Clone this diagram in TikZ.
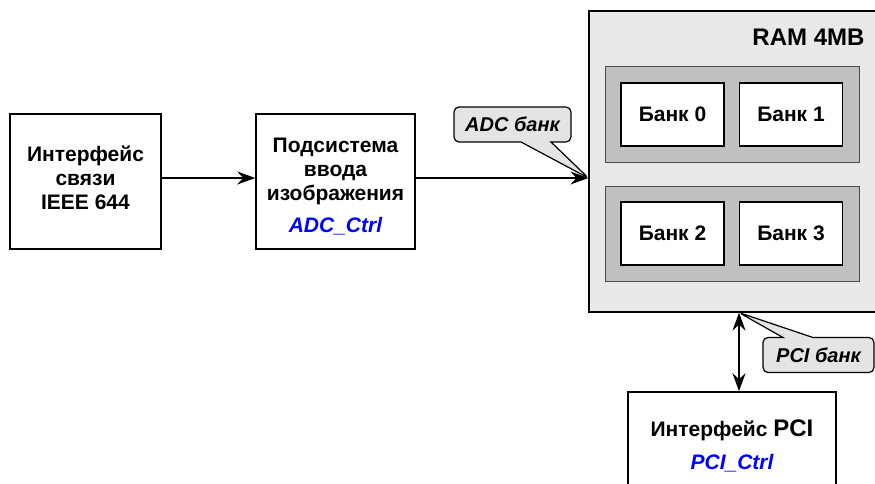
\documentclass[tikz,border=0pt]{standalone}
\usepackage{fontspec}
\setmainfont{Liberation Sans}
\usetikzlibrary{shapes.callouts,arrows.meta}
\definecolor{ramgray}{RGB}{233,233,233}
\definecolor{grpgray}{RGB}{192,192,192}
\definecolor{taggray}{RGB}{228,228,228}
\definecolor{ctrlblue}{RGB}{0,0,255}
\newcommand\ctrlname[1]{{\color{ctrlblue}\itshape #1}}

\begin{document}
\begin{tikzpicture}[x=1pt,y=-1pt]
	\tikzset{every node/.style={font=\fontsize{21}{24}\selectfont\bfseries,align=center}}
	\tikzset{block/.style={draw,line width=1.6pt,fill=white,minimum width=#1,minimum height=135pt,inner sep=0pt}}
	\tikzset{group/.style={draw=black!70,line width=1pt,fill=grpgray,minimum width=254pt,minimum height=95pt}}
	\tikzset{bank/.style={draw,line width=1.6pt,fill=white,minimum width=103pt,minimum height=63pt,inner sep=0pt}}
	\tikzset{tag/.style={rectangle callout,draw,line width=1.2pt,fill=taggray,rounded corners=5pt,callout pointer width=30pt,minimum height=35pt,inner sep=0pt,font=\fontsize{20}{24}\selectfont\bfseries\itshape}}
	\tikzset{bigtip/.tip={Stealth[length=18pt,width=13pt,inset=6pt]}}
	\tikzset{arr/.style={line width=1.6pt,-bigtip}}
	\tikzset{darr/.style={line width=1.6pt,bigtip-bigtip}}
	\clip (0,0) rectangle (875,484);
	\node[block=151pt,text height=63pt,text depth=8pt] (iface) at (85.5,181.5) {Интерфейс\\связи\\IEEE 644};
	\node[block=159pt,text height=109pt,text depth=8pt] (adc) at (335.5,181.5) {Подсистема\\ввода\\изображения\\[8pt]\ctrlname{ADC\_Ctrl}};
	\node[draw,line width=1.2pt,fill=ramgray,minimum width=291pt,minimum height=301pt] (ram) at (734.5,161.5) {};
	\node[anchor=base east,font=\fontsize{24}{28}\selectfont\bfseries] (ramlabel) at (868,46) {RAM 4MB};
	\node[group] (grp1) at (732,114.5) {};
	\node[group] (grp2) at (732,233.5) {};
	\foreach \n/\x/\y in {0/672.5/114.5,1/791/114.5,2/672.5/233.5,3/791/233.5}
		\node[bank] (bank\n) at (\x,\y) {Банк \n};
	\node[block=208pt,minimum height=108pt] (pci) at (732,446) {Интерфейс {\fontsize{24}{28}\selectfont PCI}\\[9pt]\ctrlname{PCI\_Ctrl}};
	\coordinate (ramin) at ([yshift=3.5pt]adc.east -| ram.west);
	\coordinate (ramout) at ([xshift=4.5pt]ram.south);
	\draw[arr] ([yshift=3.5pt]iface.east) -- ([yshift=3.5pt]adc.west);
	\draw[arr] ([yshift=3.5pt]adc.east) -- (ramin);
	\draw[darr] (ramout) -- (ramout |- pci.north);
	\node[tag,minimum width=117pt,callout absolute pointer={(ramin)}] (adctag) at (512.5,124.5) {ADC банк};
	\node[tag,minimum width=111pt,callout absolute pointer={(ramout)}] (pcitag) at (818.5,355) {PCI банк};
\end{tikzpicture}
\end{document}
